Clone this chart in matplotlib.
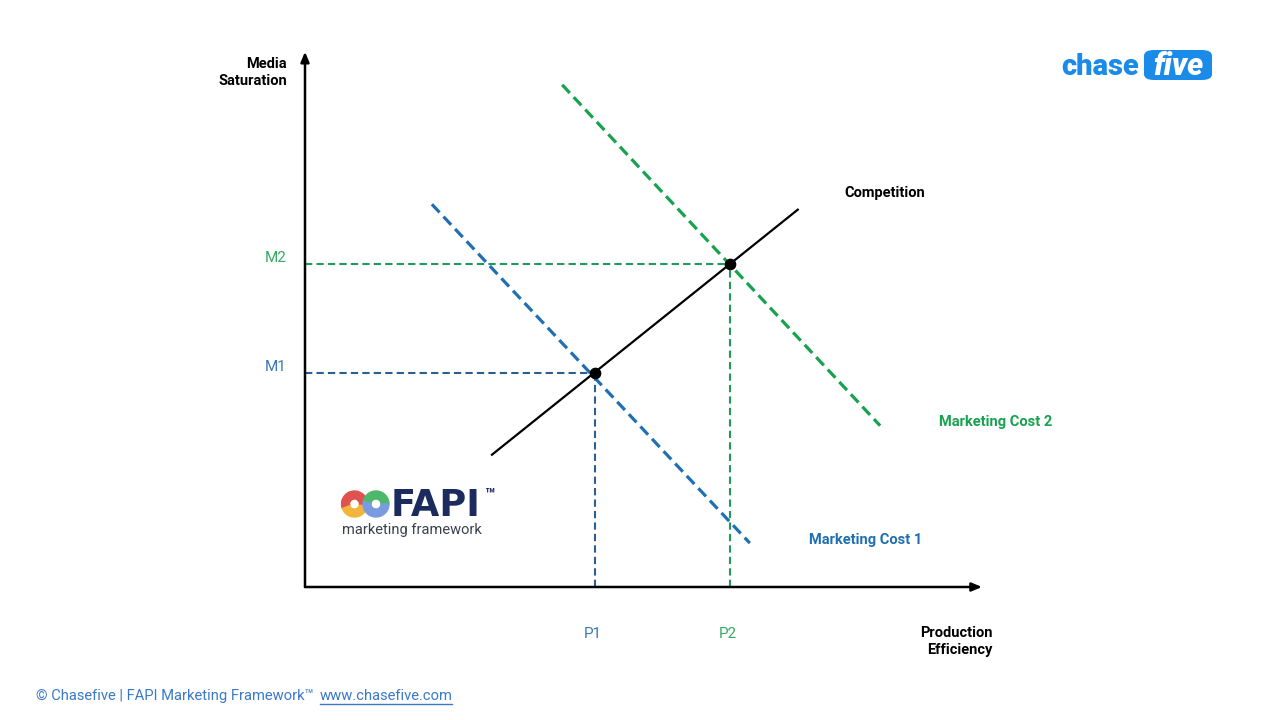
import matplotlib.pyplot as plt
from matplotlib.patches import Wedge, FancyBboxPatch
import numpy as np

plt.rcParams['font.family'] = ['Roboto', 'DejaVu Sans']

# diagram values (data units, origin at the axes corner)
axis_x_end = 10.03
axis_y_end = 7.93
competition_x = [2.77, 7.30]
competition_y = [1.96, 5.59]
cost1_x = [1.88, 6.59]
cost1_y = [5.67, 0.65]
cost2_x = [3.81, 8.52]
cost2_y = [7.44, 2.39]
eq_x = [4.30, 6.30]   # P1, P2
eq_y = [3.17, 4.79]   # M1, M2
p_labels = ['P1', 'P2']
m_labels = ['M1', 'M2']

blue = '#1f6fb2'
blue_dark = '#2b5f8e'
green = '#16a24f'
green_dark = '#1f9a5a'
lbl_blue = '#3a78b5'
lbl_green = '#35a866'

fig = plt.figure(figsize=(12.8, 7.2), dpi=100)
ax = fig.add_axes([0, 0, 1, 1])
ax.set_xlim(-305 / 67.5, 975 / 67.5)
ax.set_ylim(-133 / 67.5, 587 / 67.5)
ax.axis('off')

# axes arrows
ax.annotate('', xy=(axis_x_end, 0), xytext=(0, 0),
            arrowprops=dict(arrowstyle='-|>,head_length=0.6,head_width=0.25',
                            color='black', lw=1.8, shrinkA=0, shrinkB=0))
ax.annotate('', xy=(0, axis_y_end), xytext=(0, 0),
            arrowprops=dict(arrowstyle='-|>,head_length=0.6,head_width=0.25',
                            color='black', lw=1.8, shrinkA=0, shrinkB=0))

# projection lines
proj_cols = [blue_dark, green_dark]
for i in range(2):
    ax.plot([0, eq_x[i]], [eq_y[i], eq_y[i]], color=proj_cols[i], lw=1.5,
            dashes=(3.5, 2))
    ax.plot([eq_x[i], eq_x[i]], [0, eq_y[i]], color=proj_cols[i], lw=1.5,
            dashes=(3.5, 2))

# cost curves
ax.plot(cost1_x, cost1_y, color=blue, lw=2.3, dashes=(3.5, 1.8))
ax.plot(cost2_x, cost2_y, color=green, lw=2.3, dashes=(3.5, 1.8))
ax.plot(competition_x, competition_y, color='black', lw=1.6)
ax.scatter(eq_x, eq_y, s=55, color='black', zorder=5)

# labels
lbl_cols = [lbl_blue, lbl_green]
for i in range(2):
    ax.text(-0.43, eq_y[i] + 0.09, m_labels[i], color=lbl_cols[i],
            fontsize=11, ha='center', va='center')
    ax.text(eq_x[i] - 0.03, -0.70, p_labels[i], color=lbl_cols[i],
            fontsize=11, ha='center', va='center')

ax.text(-0.27, 7.62, 'Media\nSaturation', fontsize=10.5, fontweight='bold',
        ha='right', va='center', linespacing=1.3)
ax.text(10.18, -0.81, 'Production\nEfficiency', fontsize=10.5,
        fontweight='bold', ha='right', va='center', linespacing=1.3)
ax.text(8.59, 5.83, 'Competition', fontsize=10.5, fontweight='bold',
        ha='center', va='center')
ax.text(9.39, 2.44, 'Marketing Cost 2', fontsize=10.5, fontweight='bold',
        color=green, ha='left', va='center')
ax.text(7.47, 0.70, 'Marketing Cost 1', fontsize=10.5, fontweight='bold',
        color=blue, ha='left', va='center')

# footer
fig.text(36 / 1280, 1 - 696 / 720,
         '\u00a9 Chasefive | FAPI Marketing Framework\u2122', color='#3a78c8',
         fontsize=10.6, ha='left', va='center')
fig.text(320 / 1280, 1 - 696 / 720, 'www.chasefive.com', color='#3a78c8',
         fontsize=10.6, ha='left', va='center')
fig.add_artist(plt.Line2D([320 / 1280, 452 / 1280],
                          [1 - 704 / 720, 1 - 704 / 720], color='#3a78c8',
                          lw=1))

# chasefive logo
fig.text(1061 / 1280, 1 - 67 / 720, 'chase', color='#1a8be8', fontsize=21,
         fontweight='heavy', ha='left', va='center')
fig.add_artist(FancyBboxPatch((1144 / 1280, 1 - 80 / 720), 68 / 1280,
                              30 / 720, transform=fig.transFigure,
                              boxstyle='round,pad=0,rounding_size=0.008',
                              fc='#1a8be8', ec='none'))
fig.text(1178 / 1280, 1 - 66 / 720, 'five', color='white', fontsize=22,
         fontweight='heavy', style='italic', ha='center', va='center')

# FAPI logo
lax = fig.add_axes([340 / 1280, 1 - 522 / 720, 54 / 1280, 36 / 720])
lax.set_xlim(0, 54)
lax.set_ylim(0, 36)
lax.set_aspect('equal')
lax.axis('off')
rings = [((14.5, 18), [(45, 200, '#e0524f'), (200, 360, '#f2b53c'),
                       (0, 45, '#e0524f')]),
         ((36, 18), [(0, 170, '#4cb86a'), (170, 360, '#7b9be0')])]
for center, parts in rings:
    for a0, a1, col in parts:
        lax.add_patch(Wedge(center, 13, a0, a1, width=8, color=col))
fig.text(391 / 1280, 1 - 505 / 720, 'FAPI', color='#1b2b5e', fontsize=26.5,
         fontweight='bold', family='DejaVu Sans', ha='left', va='center')
fig.text(484 / 1280, 1 - 495 / 720, '\u2122', color='#1b2b5e', fontsize=12,
         fontweight='bold', ha='left', va='center')
fig.text(342 / 1280, 1 - 530 / 720, 'marketing framework', color='#3b4150',
         fontsize=10.5, ha='left', va='center')

fig.savefig('out.png', dpi=100)
